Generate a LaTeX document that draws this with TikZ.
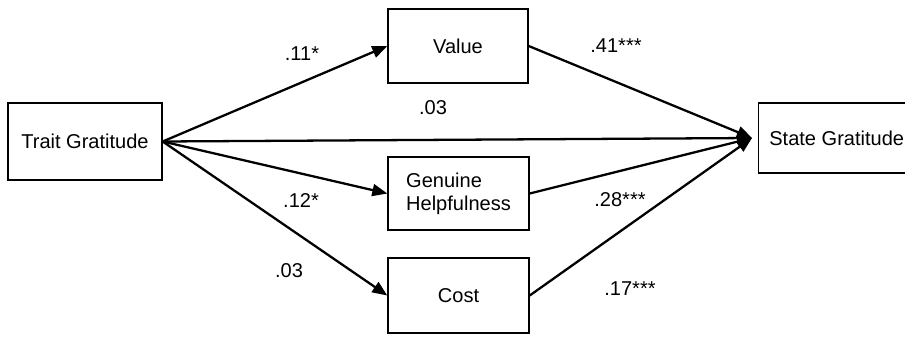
\documentclass[tikz,border=0pt]{standalone}
\usepackage{fontspec}
\setmainfont{Liberation Sans}
\usetikzlibrary{arrows.meta}

\begin{document}
\begin{tikzpicture}[
        var/.style={draw, line width=0.8pt, align=left, font=\fontsize{11.4}{13.1}\selectfont},
        path/.style={line width=1.3pt, -{Triangle[length=0.3cm, width=0.24cm]}},
        coef/.style={font=\fontsize{11.4}{13.1}\selectfont}
    ]
        \clip (0,0) rectangle (18.1,6.72);
        \node[var, minimum width=3.08cm, minimum height=1.54cm] (trait) at (1.7, 3.89) {Trait Gratitude};
        \node[var, minimum width=2.8cm, minimum height=1.48cm] (value) at (9.16, 5.8) {Value};
        \node[var, minimum width=2.82cm, minimum height=1.46cm] (help) at (9.17, 2.85) {Genuine\\Helpfulness};
        \node[var, minimum width=2.82cm, minimum height=1.5cm] (cost) at (9.17, 0.81) {Cost};
        \node[var, minimum width=3.12cm, minimum height=1.4cm, anchor=west] (state) at (15.16, 3.96) {State Gratitude};
        % paths from trait gratitude
        \draw[path] (trait.east) -- (value.west);
        \draw[path] (trait.east) -- (help.west);
        \draw[path] (trait.east) -- (cost.west);
        \draw[path] (trait.east) -- ([xshift=-0.12cm]state.west);
        % paths into state gratitude
        \draw[path] (value.east) -- ([xshift=-0.12cm]state.west);
        \draw[path] (help.east) -- ([xshift=-0.12cm]state.west);
        \draw[path] (cost.east) -- ([xshift=-0.12cm]state.west);
        \node[coef] (c1) at (6.04, 5.64) {.11*};
        \node[coef] (c2) at (8.66, 4.56) {.03};
        \node[coef] (c3) at (6.02, 2.7) {.12*};
        \node[coef] (c4) at (5.78, 1.3) {.03};
        \node[coef] (c5) at (12.32, 5.8) {.41***};
        \node[coef] (c6) at (12.4, 2.72) {.28***};
        \node[coef] (c7) at (12.6, 0.94) {.17***};
    \end{tikzpicture}
\end{document}
